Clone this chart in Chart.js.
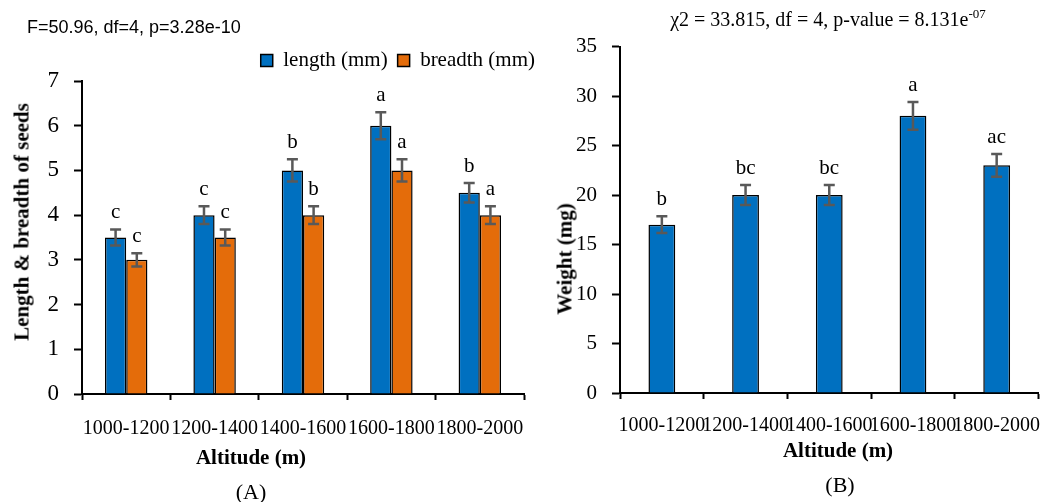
<!DOCTYPE html>
<html>
<head>
<meta charset="utf-8">
<script src="https://cdn.jsdelivr.net/npm/chart.js@4"></script>
<style>
	html, body { margin: 0; padding: 0; background: #fff; }
	body { width: 1055px; height: 502px; position: relative; overflow: hidden; font-family: 'Liberation Serif', serif; color: #000; }
	.box { position: absolute; top: 0; height: 502px; }
	.txt { position: absolute; white-space: nowrap; transform: translate(-50%, -50%); line-height: 1; }
	.rot { transform: translate(-50%, -50%) rotate(-90deg); }
</style>
</head>
<body>
<div class="box" style="left:0;width:545px"><canvas id="chartA"></canvas></div>
<div class="box" style="left:540px;width:515px"><canvas id="chartB"></canvas></div>

<div class="txt" style="left:27px;top:27px;transform:translate(0,-50%);font-family:'Liberation Sans',sans-serif;font-size:18px">F=50.96, df=4, p=3.28e-10</div>
<div class="txt rot" style="left:22px;top:222px;font-weight:bold;font-size:21px">Length &amp; breadth of seeds</div>
<div class="txt" style="left:251px;top:457px;font-weight:bold;font-size:21px">Altitude (m)</div>
<div class="txt" style="left:251px;top:492px;font-size:22px">(A)</div>

<div class="txt" style="left:828px;top:18px;font-size:20px">χ2 = 33.815, df = 4, p-value = 8.131e<sup style="font-size:13px">-07</sup></div>
<div class="txt rot" style="left:565px;top:259px;font-weight:bold;font-size:21px">Weight (mg)</div>
<div class="txt" style="left:838px;top:450px;font-weight:bold;font-size:21px">Altitude (m)</div>
<div class="txt" style="left:840px;top:485px;font-size:22px">(B)</div>

<script>
	'use strict';

	// Data.
	const altitudes = ['1000-1200', '1200-1400', '1400-1600', '1600-1800', '1800-2000'];

	const lengthMm = [3.5, 4.0, 5.0, 6.0, 4.5];
	const lengthErr = [0.18, 0.2, 0.25, 0.3, 0.22];
	const lengthLetters = ['c', 'c', 'b', 'a', 'b'];

	const breadthMm = [3.0, 3.5, 4.0, 5.0, 4.0];
	const breadthErr = [0.15, 0.18, 0.2, 0.25, 0.2];
	const breadthLetters = ['c', 'c', 'b', 'a', 'a'];

	const weightMg = [17, 20, 20, 28, 23];
	const weightErr = [0.85, 1.0, 1.0, 1.4, 1.15];
	const weightLetters = ['b', 'bc', 'bc', 'a', 'ac'];

	const lengthTicks = [0, 1, 2, 3, 4, 5, 6, 7];
	const weightTicks = [0, 5, 10, 15, 20, 25, 30, 35];

	const BLUE = '#0070C0';
	const ORANGE = '#E46C0A';
	const SERIF = "'Liberation Serif', 'Times New Roman', serif";

	Chart.defaults.font.family = SERIF;
	Chart.defaults.color = '#000';

	// Error bars and significance letters on top of each bar.
	const errorBars = {
		id: 'errorBars',
		afterDatasetsDraw(chart) {
			const ctx = chart.ctx;
			const yScale = chart.scales.y;
			chart.data.datasets.forEach(function(ds, di) {
				const meta = chart.getDatasetMeta(di);
				meta.data.forEach(function(bar, i) {
					const v = ds.data[i];
					const e = ds.errors[i];
					const top = yScale.getPixelForValue(v + e);
					const bot = yScale.getPixelForValue(v - e);
					ctx.save();
					ctx.strokeStyle = '#595959';
					ctx.lineWidth = 2.5;
					ctx.beginPath();
					ctx.moveTo(bar.x, top);
					ctx.lineTo(bar.x, bot);
					ctx.moveTo(bar.x - 5.5, top);
					ctx.lineTo(bar.x + 5.5, top);
					ctx.moveTo(bar.x - 5.5, bot);
					ctx.lineTo(bar.x + 5.5, bot);
					ctx.stroke();
					ctx.fillStyle = '#000';
					ctx.font = '21px ' + SERIF;
					ctx.textAlign = 'center';
					ctx.textBaseline = 'alphabetic';
					ctx.fillText(ds.letters[i], bar.x, top - 11);
					ctx.restore();
				});
			});
		}
	};

	function valueAxis(ticks, width, fontSize) {
		return {
			min: ticks[0],
			max: ticks[ticks.length - 1],
			afterBuildTicks: function(scale) {
				scale.ticks = ticks.map(function(v) { return { value: v }; });
			},
			afterFit: function(scale) { scale.width = width; },
			border: { color: '#000', width: 2 },
			grid: { drawOnChartArea: false, drawTicks: true, tickLength: 8, tickWidth: 2, tickColor: '#000' },
			ticks: { padding: 15, font: { size: fontSize } }
		};
	}

	function categoryAxis(height, padding) {
		return {
			afterFit: function(scale) { scale.height = height; },
			border: { color: '#000', width: 2 },
			grid: { offset: true, drawOnChartArea: false, drawTicks: true, tickLength: 6, tickWidth: 2, tickColor: '#000' },
			ticks: { padding: padding, maxRotation: 0, minRotation: 0, autoSkip: false, font: { size: 20 } }
		};
	}

	new Chart(document.getElementById('chartA'), {
		type: 'bar',
		data: {
			labels: altitudes,
			datasets: [
				{
					label: 'length (mm)',
					data: lengthMm,
					errors: lengthErr,
					letters: lengthLetters,
					backgroundColor: BLUE,
					borderColor: '#000',
					borderWidth: 1.5,
					categoryPercentage: 0.48,
					barPercentage: 1.0
				},
				{
					label: 'breadth (mm)',
					data: breadthMm,
					errors: breadthErr,
					letters: breadthLetters,
					backgroundColor: ORANGE,
					borderColor: '#000',
					borderWidth: 1.5,
					categoryPercentage: 0.48,
					barPercentage: 1.0
				}
			]
		},
		options: {
			responsive: true,
			maintainAspectRatio: false,
			animation: false,
			layout: { padding: { top: 40, right: 0, bottom: 0, left: 0 } },
			plugins: {
				legend: {
					display: true,
					position: 'top',
					align: 'end',
					labels: { boxWidth: 12, boxHeight: 12, padding: 10, font: { size: 21 } }
				},
				tooltip: { enabled: false }
			},
			scales: {
				x: categoryAxis(108, 17),
				y: valueAxis(lengthTicks, 82, 23),
				// empty right-hand spacer so the legend can reach the right edge
				spacer: {
					position: 'right',
					display: true,
					afterFit: function(scale) { scale.width = 21; },
					border: { display: false },
					grid: { display: false },
					ticks: { display: false }
				}
			}
		},
		plugins: [errorBars]
	});

	new Chart(document.getElementById('chartB'), {
		type: 'bar',
		data: {
			labels: altitudes,
			datasets: [
				{
					label: 'Weight (mg)',
					data: weightMg,
					errors: weightErr,
					letters: weightLetters,
					backgroundColor: BLUE,
					borderColor: '#000',
					borderWidth: 1.5,
					categoryPercentage: 0.32,
					barPercentage: 1.0
				}
			]
		},
		options: {
			responsive: true,
			maintainAspectRatio: false,
			animation: false,
			layout: { padding: { top: 46.5, right: 0, bottom: 0, left: 0 } },
			plugins: {
				legend: { display: false },
				tooltip: { enabled: false }
			},
			scales: {
				x: categoryAxis(109, 15),
				y: valueAxis(weightTicks, 80, 21)
			}
		},
		plugins: [errorBars]
	});
</script>
</body>
</html>
